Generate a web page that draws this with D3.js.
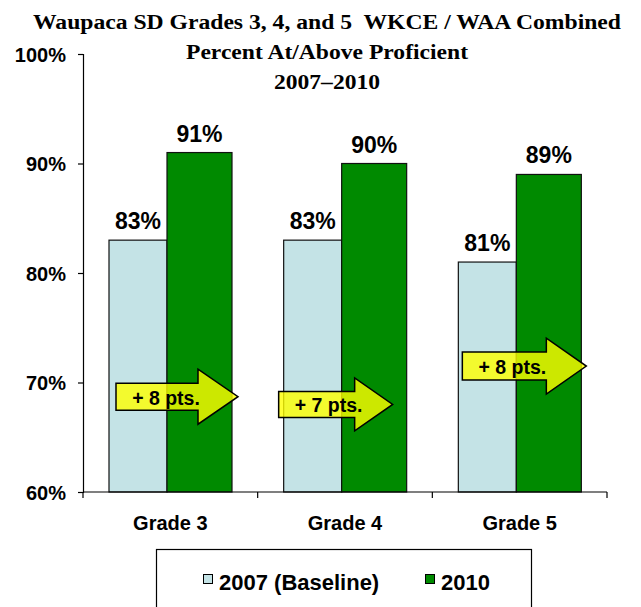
<!DOCTYPE html>
<html><head><meta charset="utf-8">
<script src="https://cdn.jsdelivr.net/npm/d3@7"></script>
<style>body{margin:0;background:#fff;} svg{display:block;}</style>
</head><body>
<svg id="chart" width="641" height="607"></svg>
<script>
const categories = ["Grade 3", "Grade 4", "Grade 5"];
const seriesNames = ["2007 (Baseline)", "2010"];
const values2007 = [0.83, 0.83, 0.81];
const values2010 = [0.91, 0.90, 0.89];
const yTicks = [0.6, 0.7, 0.8, 0.9, 1.0];
const gainLabels = ["+ 8 pts.", "+ 7 pts.", "+ 8 pts."];
const gainLevels = [0.687, 0.680, 0.715];
const titleLines = ["Waupaca SD Grades 3, 4, and 5  WKCE / WAA Combined", "Percent At/Above Proficient", "2007\u20132010"];

const colors = ["#c4e3e6", "#008a00"];
const svg = d3.select("#chart");

const x = d3.scaleBand().domain(categories).range([83, 607]).padding(0);
const y = d3.scaleLinear().domain([0.6, 1.0]).range([492, 54]);

// title
const titleLen = [588, 282, 106];
svg.append("g").selectAll("text").data(titleLines).join("text")
  .attr("x", 327).attr("y", (d, i) => 28.5 + i * 30)
  .attr("text-anchor", "middle")
  .style("white-space", "pre")
  .attr("font-family", "Liberation Serif, Times New Roman, serif")
  .attr("font-weight", "bold").attr("font-size", 20.5)
  .attr("textLength", (d, i) => titleLen[i]).attr("lengthAdjust", "spacingAndGlyphs")
  .text(d => d);

// y axis
const yAxis = svg.append("g").attr("transform", "translate(83,0)")
  .call(d3.axisLeft(y).tickValues(yTicks).tickFormat(d3.format(".0%")).tickSize(5).tickPadding(12));
yAxis.select(".domain").attr("stroke", "#000").attr("stroke-width", 1.2);
yAxis.selectAll(".tick line").attr("stroke", "#000").attr("stroke-width", 1.2);
yAxis.selectAll(".tick text").attr("font-family", "Liberation Sans, Arial, sans-serif")
  .attr("font-weight", "bold").attr("font-size", 20).attr("fill", "#000").attr("dy", "0.36em");

// bars
const offs = 26, w1 = 58, w2 = 65;
const g = svg.append("g");
categories.forEach((c, i) => {
  const x0 = x(c) + offs;
  const bars = [
    {x: x0, w: w1, v: values2007[i], c: colors[0]},
    {x: x0 + w1, w: w2, v: values2010[i], c: colors[1]}
  ];
  bars.forEach(b => {
    g.append("rect").attr("x", b.x).attr("y", y(b.v)).attr("width", b.w)
      .attr("height", y(0.6) - y(b.v)).attr("fill", b.c)
      .attr("stroke", "#111").attr("stroke-width", 1.2);
    g.append("text").attr("x", b.x + b.w / 2).attr("y", y(b.v) - 11)
      .attr("text-anchor", "middle")
      .attr("font-family", "Liberation Sans, Arial, sans-serif")
      .attr("font-weight", "bold").attr("font-size", 23)
      .text(d3.format(".0%")(b.v));
  });
});

// x axis
const xAxis = svg.append("g").attr("transform", "translate(0,492)");
xAxis.append("line").attr("x1", 83).attr("x2", 607).attr("y1", 0).attr("y2", 0)
  .attr("stroke", "#000").attr("stroke-width", 1.2);
const bounds = categories.map(c => x(c)).concat([x(categories[categories.length - 1]) + x.bandwidth()]);
xAxis.selectAll("line.tk").data(bounds).join("line").attr("class", "tk")
  .attr("x1", d => d).attr("x2", d => d).attr("y1", 0).attr("y2", 6)
  .attr("stroke", "#000").attr("stroke-width", 1.2);
xAxis.selectAll("text").data(categories).join("text")
  .attr("x", d => x(d) + x.bandwidth() / 2).attr("y", 38)
  .attr("text-anchor", "middle")
  .attr("font-family", "Liberation Sans, Arial, sans-serif")
  .attr("font-weight", "bold").attr("font-size", 20)
  .text(d => d);

// gain arrows
const arrowStart = [33, 21, 30];
const arrowLen = [122, 114, 124];
const headLen = [40, 38, 40];
const bodyH = [13.5, 13, 14];
const headH = [27.5, 26.5, 28];
const ag = svg.append("g");
categories.forEach((c, i) => {
  const x0 = x(c) + arrowStart[i];
  const xt = x0 + arrowLen[i];
  const xh = xt - headLen[i];
  const yc = y(gainLevels[i]);
  const pts = [[x0, yc - bodyH[i]], [xh, yc - bodyH[i]], [xh, yc - headH[i]], [xt, yc],
               [xh, yc + headH[i]], [xh, yc + bodyH[i]], [x0, yc + bodyH[i]]];
  ag.append("polygon").attr("points", pts.map(p => p.join(",")).join(" "))
    .attr("fill", "#ffff00").attr("fill-opacity", 0.8)
    .attr("stroke", "#000").attr("stroke-width", 1.5).attr("stroke-linejoin", "miter");
  ag.append("text").attr("x", x0 + 50).attr("y", yc + 1).attr("dy", "0.35em")
    .attr("text-anchor", "middle")
    .attr("font-family", "Liberation Sans, Arial, sans-serif")
    .attr("font-weight", "bold").attr("font-size", 19.5)
    .text(gainLabels[i]);
});

// legend
const lg = svg.append("g");
lg.append("rect").attr("x", 156.5).attr("y", 549.5).attr("width", 375).attr("height", 70)
  .attr("fill", "#fff").attr("stroke", "#000").attr("stroke-width", 1.2);
const legX = [203, 425];
seriesNames.forEach((s, i) => {
  lg.append("rect").attr("x", legX[i] + 0.5).attr("y", 574.5).attr("width", 9).attr("height", 9)
    .attr("fill", colors[i]).attr("stroke", "#000").attr("stroke-width", 1);
  lg.append("text").attr("x", legX[i] + 16).attr("y", 590)
    .attr("font-family", "Liberation Sans, Arial, sans-serif")
    .attr("font-weight", "bold").attr("font-size", 22)
    .text(s);
});
</script>
</body></html>
